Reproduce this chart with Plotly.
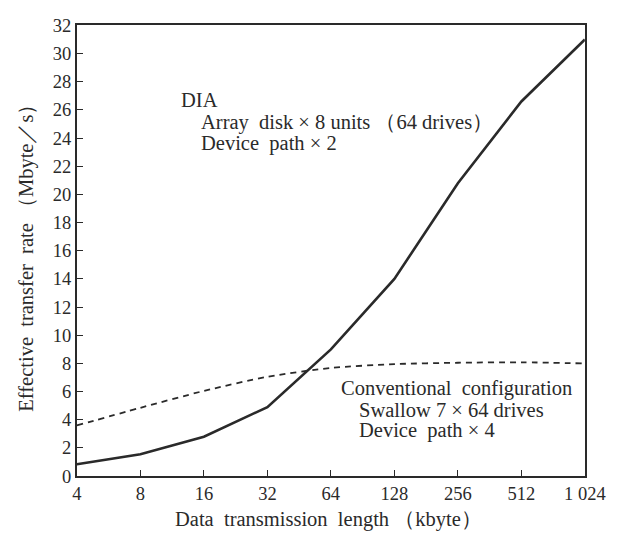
import plotly.graph_objects as go

# Data transmission length (kbyte), plotted on a log axis
lengths = [4, 8, 16, 32, 64, 128, 256, 512, 1024]
tick_text = ["4", "8", "16", "32", "64", "128", "256", "512", "1 024"]

# Effective transfer rate (Mbyte/s)
dia_rate = [0.85, 1.55, 2.8, 4.9, 9.0, 14.0, 20.8, 26.6, 31.0]
conventional_rate = [3.6, 4.85, 6.05, 7.05, 7.68, 7.95, 8.05, 8.08, 8.0]

y_ticks = list(range(0, 33, 2))

INK = "#2a2a2a"
SERIF = "Liberation Serif, Times New Roman, serif"

fig = go.Figure()

fig.add_trace(go.Scatter(
    x=lengths, y=dia_rate, mode="lines",
    line=dict(color=INK, width=2.6),
    name="DIA", showlegend=False,
))
fig.add_trace(go.Scatter(
    x=lengths, y=conventional_rate, mode="lines",
    line=dict(color=INK, width=1.8, dash="6px,5px", shape="spline", smoothing=0.8),
    name="Conventional configuration", showlegend=False,
))

font = dict(family=SERIF, size=20.5, color=INK)
tick_font = dict(family=SERIF, size=18.5, color=INK)

notes = [
    ("DIA", 182, 93),
    ("Array  disk × 8 units （64 drives）", 202, 117),
    ("Device  path × 2", 202, 139),
    ("Conventional  configuration", 348, 393),
    ("Swallow 7 × 64 drives", 367, 415),
    ("Device  path × 4", 367, 437),
]
for text, px, py in notes:
    fig.add_annotation(
        text=text, x=px / 626, y=1 - py / 542, xref="paper", yref="paper",
        xanchor="left", yanchor="middle", showarrow=False, font=font,
    )

# Axis titles
fig.add_annotation(
    text="Data  transmission  length （kbyte）", x=338 / 626, y=1 - 529 / 542,
    xref="paper", yref="paper", xanchor="center", yanchor="middle",
    showarrow=False, font=font,
)
fig.add_annotation(
    text="Effective  transfer  rate （Mbyte／s）", x=23 / 626, y=1 - 252 / 542,
    xref="paper", yref="paper", xanchor="center", yanchor="middle",
    showarrow=False, font=font, textangle=-90,
)

# Position the plot area via paper-coordinate domains
fig.update_layout(
    width=626, height=542,
    margin=dict(l=0, r=0, t=0, b=0),
    paper_bgcolor="white", plot_bgcolor="white",
    font=font,
    xaxis=dict(
        type="log", range=[0.60206, 3.0103],
        domain=[75 / 626, 605 / 626],
        tickvals=lengths, ticktext=tick_text,
        ticks="inside", ticklen=6, tickwidth=1.2, tickcolor=INK,
        ticklabeloverflow="allow",
        showgrid=False, zeroline=False,
        showline=True, linecolor=INK, linewidth=2, mirror=True,
        tickfont=tick_font,
    ),
    yaxis=dict(
        range=[0, 32],
        domain=[1 - 484 / 542, 1 - 16 / 542],
        tickvals=y_ticks,
        ticks="inside", ticklen=6, tickwidth=1.2, tickcolor=INK,
        ticklabeloverflow="allow",
        showgrid=False, zeroline=False,
        showline=True, linecolor=INK, linewidth=2, mirror=True,
        tickfont=tick_font,
    ),
)

fig.write_html("out.html")
